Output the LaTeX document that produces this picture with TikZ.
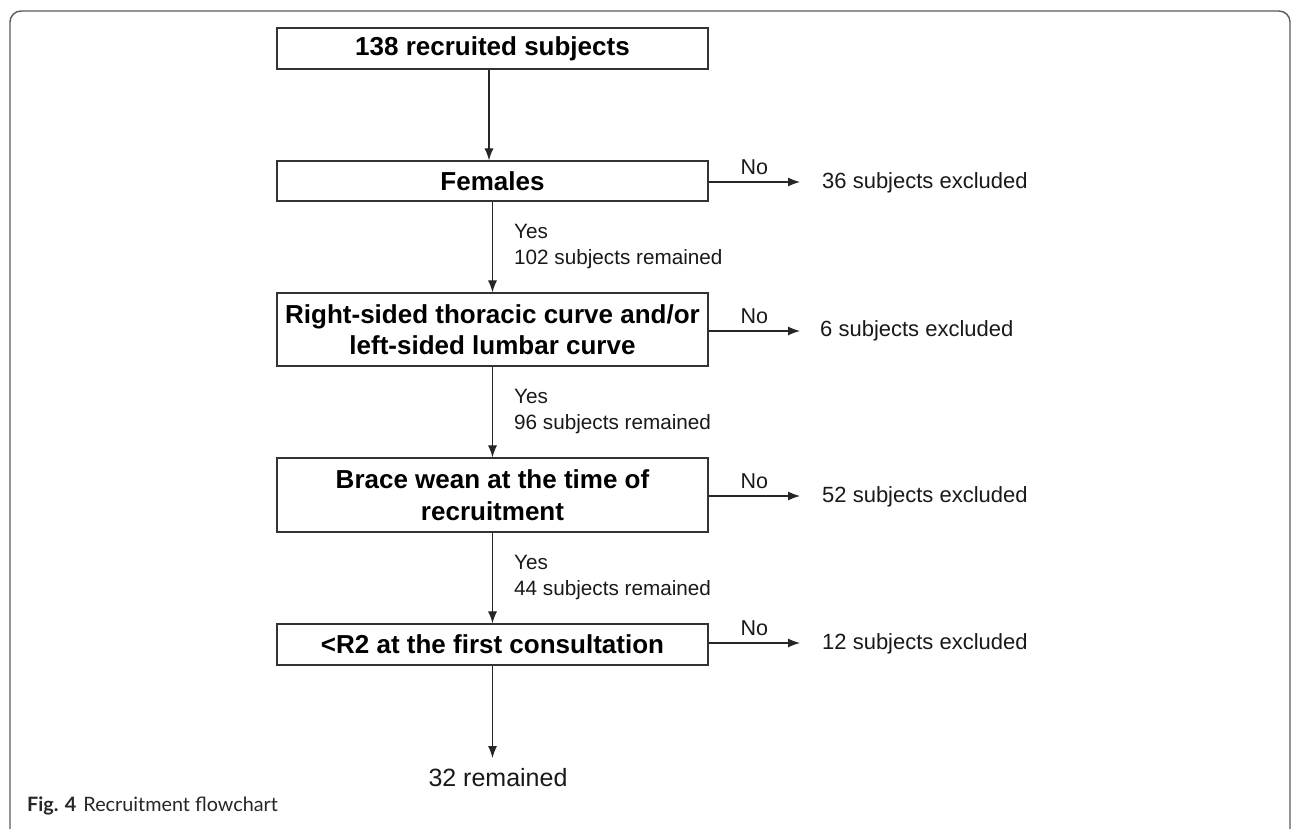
\documentclass[tikz,border=0pt]{standalone}
\usepackage{fontspec}
\setmainfont{Liberation Sans}
\newfontfamily\capfont{Lato}
\usetikzlibrary{arrows.meta}
\begin{document}
\begin{tikzpicture}[x=1pt,y=-1pt,
  box/.style={draw=black!80,line width=1.2pt,minimum width=431pt,inner sep=0pt,align=center,
     font=\fontsize{26}{31.5}\selectfont\bfseries,text=black},
  conn/.style={line width=1.1pt,draw=black!85,-{Latex[length=12pt,width=9pt]}},
  lab/.style={inner sep=0pt,font=\fontsize{20.7}{26}\selectfont,text=black!90,align=left},
  exlab/.style={inner sep=0pt,font=\fontsize{22}{26}\selectfont,text=black!90},
  nolab/.style={inner sep=0pt,font=\fontsize{21.5}{26}\selectfont,text=black!90}]
\useasboundingbox (0,0) rectangle (1292,829);
\draw[black!65,line width=1.4pt,rounded corners=11pt] (10,11) rectangle (1290,845);

\node[box,minimum height=41pt] (b1) at (492.5,48.5) {138 recruited subjects};
\node[box,minimum height=40pt] (b2) at (492.5,181) {Females};
\node[box,minimum height=73pt] (b3) at (492.5,329.5) {Right-sided thoracic curve and/or\\left-sided lumbar curve};
\node[box,minimum height=74pt] (b4) at (492.5,495) {Brace wean at the time of\\recruitment};
\node[box,minimum height=41pt] (b5) at (492.5,644.5) {<R2 at the first consultation};

\draw[conn] ([xshift=-3.5pt]b1.south) -- ([xshift=-3.5pt]b2.north);
\draw[conn] (b2.south) -- (b3.north);
\draw[conn] (b3.south) -- (b4.north);
\draw[conn] (b4.south) -- (b5.north);

\node[lab,anchor=north west] (y2) at (514,224) {Yes\\102 subjects remained};
\node[lab,anchor=north west] (y3) at (514,389) {Yes\\96 subjects remained};
\node[lab,anchor=north west] (y4) at (514,555) {Yes\\44 subjects remained};

\node[inner sep=0pt,anchor=north,font=\fontsize{25}{30}\selectfont,text=black!90] (fin) at (498,768) {32 remained};
\coordinate (fa) at (492.5,758);
\draw[conn] (b5.south) -- (fa);

\node[exlab,anchor=west] (x2) at (822,183) {36 subjects excluded};
\node[exlab,anchor=west] (x3) at (820,331) {6 subjects excluded};
\node[exlab,anchor=west] (x4) at (822,497) {52 subjects excluded};
\node[exlab,anchor=west] (x5) at (822,644) {12 subjects excluded};

\coordinate (t2) at (800,182);
\coordinate (t3) at (800,331);
\coordinate (t4) at (800,496);
\coordinate (t5) at (800,643);
\draw[conn] (b2.east |- t2) -- node[nolab,above=7pt] (n2) {No} (t2);
\draw[conn] (b3.east |- t3) -- node[nolab,above=7pt] (n3) {No} (t3);
\draw[conn] (b4.east |- t4) -- node[nolab,above=7pt] (n4) {No} (t4);
\draw[conn] (b5.east |- t5) -- node[nolab,above=7pt] (n5) {No} (t5);

\node[inner sep=0pt,anchor=west,font=\capfont\fontsize{19.8}{23}\selectfont,text=black!85] (cap) at (27,806) {\textbf{Fig. 4}\hspace{7pt}Recruitment flowchart};
\end{tikzpicture}
\end{document}
